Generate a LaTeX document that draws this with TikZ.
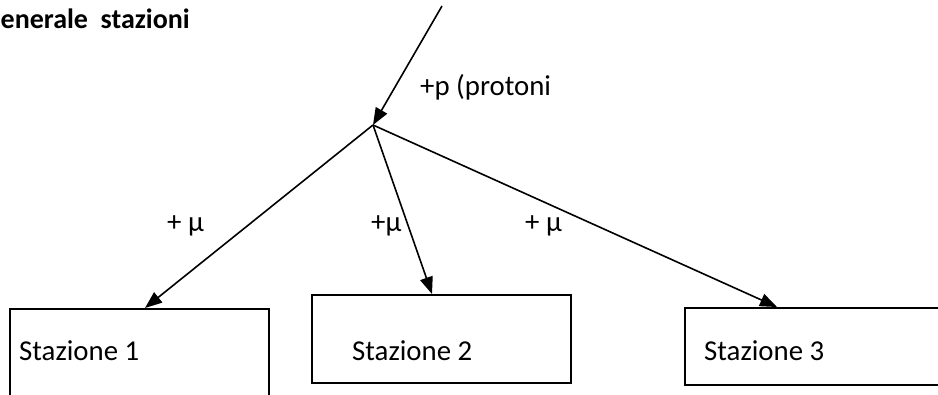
\documentclass[tikz,border=0pt]{standalone}
\usepackage{fontspec}
\setmainfont{Carlito}
\usetikzlibrary{arrows.meta,calc}
\tikzset{
  box/.style={draw, line width=1.8pt, inner sep=0pt, anchor=north west},
  txt/.style={anchor=base west, inner sep=0pt, font=\fontsize{28.8}{34}\selectfont},
  conn/.style={line width=1.6pt, -{Triangle[length=17pt,width=13pt]}},
}
\begin{document}
\begin{tikzpicture}[x=1pt,y=-1pt]
\useasboundingbox (0,0) rectangle (938,394);
% title
\node[txt, font=\fontsize{28}{34}\selectfont\bfseries] (title) at (0.5,28) {enerale\ \ stazioni};
% boxes
\node[box, minimum width=259pt, minimum height=110pt] (b1) at (9,308) {};
\node[box, minimum width=259pt, minimum height=88pt] (b2) at (311,294) {};
\node[box, minimum width=280pt, minimum height=77pt] (b3) at (684,307) {};
\node[txt] (t1) at (19,360) {Stazione 1};
\node[txt] (t2) at (352,360) {Stazione 2};
\node[txt] (t3) at (704,360) {Stazione 3};
% labels
\node[txt] (lp) at (420,95) {+p (protoni};
\node[txt] (m1) at (167,231) {+ μ};
\node[txt] (m2) at (371,231) {+μ};
\node[txt] (m3) at (525,231) {+ μ};
% connectors
\coordinate (s) at (442,6);
\coordinate (v) at (373,125);
\draw[conn] (s) -- (v);
\draw[conn] (v) -- ($(b1.north west)+(136,0)$);
\draw[conn] (v) -- ($(b2.north west)+(121,0)$);
\draw[conn] (v) -- ($(b3.north west)+(93,0)$);
\end{tikzpicture}
\end{document}
